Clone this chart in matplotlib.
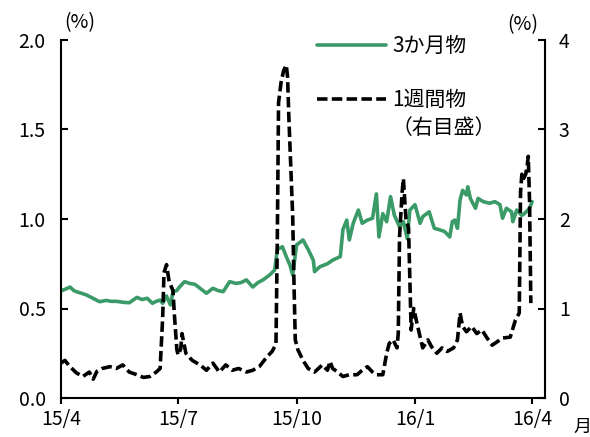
import matplotlib
matplotlib.use("Agg")
import matplotlib.pyplot as plt
import pandas as pd

plt.rcParams['font.family'] = ['Noto Sans CJK JP', 'DejaVu Sans']

# 3-month rate (left axis, %)
m3_dates = [
    "2015-04-01", "2015-04-05", "2015-04-08", "2015-04-11", "2015-04-13", "2015-04-17", "2015-04-21", "2015-04-25",
    "2015-05-01", "2015-05-06", "2015-05-10", "2015-05-14", "2015-05-19", "2015-05-24", "2015-05-30",
    "2015-06-03", "2015-06-07", "2015-06-11", "2015-06-14", "2015-06-17", "2015-06-19", "2015-06-22", "2015-06-25", "2015-06-27", "2015-06-30",
    "2015-07-02", "2015-07-06", "2015-07-10", "2015-07-14", "2015-07-18", "2015-07-23", "2015-07-28",
    "2015-08-01", "2015-08-05", "2015-08-10", "2015-08-15", "2015-08-19", "2015-08-23", "2015-08-28",
    "2015-09-01", "2015-09-05", "2015-09-10", "2015-09-14", "2015-09-16", "2015-09-20", "2015-09-23", "2015-09-26", "2015-09-28",
    "2015-10-01", "2015-10-06", "2015-10-10", "2015-10-14", "2015-10-15", "2015-10-19", "2015-10-25", "2015-10-29",
    "2015-11-04", "2015-11-06", "2015-11-09", "2015-11-11", "2015-11-14", "2015-11-18", "2015-11-21", "2015-11-25", "2015-11-29",
    "2015-12-02", "2015-12-04", "2015-12-07", "2015-12-10", "2015-12-13", "2015-12-16", "2015-12-20", "2015-12-23", "2015-12-26", "2015-12-28",
    "2016-01-01", "2016-01-05", "2016-01-07", "2016-01-12", "2016-01-16", "2016-01-20", "2016-01-24", "2016-01-28", "2016-01-30",
    "2016-02-01", "2016-02-03", "2016-02-05", "2016-02-07", "2016-02-10", "2016-02-11", "2016-02-13", "2016-02-17", "2016-02-19", "2016-02-23", "2016-02-28",
    "2016-03-03", "2016-03-07", "2016-03-09", "2016-03-12", "2016-03-16", "2016-03-17", "2016-03-20", "2016-03-24", "2016-03-26", "2016-03-30",
    "2016-04-01",
]
m3_rates = [
    0.598, 0.61, 0.62, 0.60, 0.594, 0.585, 0.575, 0.56,
    0.538, 0.545, 0.54, 0.54, 0.535, 0.532, 0.562,
    0.55, 0.557, 0.529, 0.54, 0.547, 0.529, 0.57, 0.52, 0.594, 0.60,
    0.62, 0.65, 0.64, 0.635, 0.613, 0.585, 0.613,
    0.60, 0.594, 0.65, 0.64, 0.645, 0.66, 0.62,
    0.645, 0.66, 0.687, 0.715, 0.83, 0.845, 0.79, 0.74, 0.687,
    0.855, 0.883, 0.83, 0.77, 0.706, 0.733, 0.75, 0.77,
    0.79, 0.94, 0.994, 0.883, 0.976, 1.05, 0.976, 0.994, 1.004,
    1.14, 0.90, 1.03, 0.985, 1.125, 1.02, 0.957, 0.985, 0.89, 1.05,
    1.08, 0.976, 1.013, 1.04, 0.948, 0.94, 0.93, 0.90, 0.985,
    0.994, 0.948, 1.106, 1.16, 1.134, 1.18, 1.115, 1.06, 1.115, 1.097, 1.088,
    1.097, 1.08, 1.004, 1.06, 1.04, 0.985, 1.05, 1.02, 1.03, 1.06,
    1.097,
]

# 1-week rate (right axis, %)
w1_dates = [
    "2015-04-01", "2015-04-04", "2015-04-08", "2015-04-13", "2015-04-18", "2015-04-23", "2015-04-26", "2015-04-29",
    "2015-05-03", "2015-05-09", "2015-05-14", "2015-05-19", "2015-05-24", "2015-05-30",
    "2015-06-04", "2015-06-09", "2015-06-14", "2015-06-17", "2015-06-19", "2015-06-20", "2015-06-22", "2015-06-24", "2015-06-27", "2015-06-28", "2015-06-30",
    "2015-07-01", "2015-07-03", "2015-07-04", "2015-07-07", "2015-07-10", "2015-07-12", "2015-07-18", "2015-07-23", "2015-07-28",
    "2015-08-02", "2015-08-07", "2015-08-12", "2015-08-17", "2015-08-23", "2015-08-28",
    "2015-09-02", "2015-09-08", "2015-09-12", "2015-09-15", "2015-09-16", "2015-09-17", "2015-09-19", "2015-09-21", "2015-09-23", "2015-09-24", "2015-09-25", "2015-09-28", "2015-09-29", "2015-09-30",
    "2015-10-02", "2015-10-06", "2015-10-10", "2015-10-15", "2015-10-21", "2015-10-25", "2015-10-27", "2015-10-29",
    "2015-11-02", "2015-11-06", "2015-11-11", "2015-11-17", "2015-11-21", "2015-11-25", "2015-11-29",
    "2015-12-02", "2015-12-07", "2015-12-10", "2015-12-12", "2015-12-15", "2015-12-18", "2015-12-19", "2015-12-20", "2015-12-22", "2015-12-23", "2015-12-25", "2015-12-27", "2015-12-29", "2015-12-31",
    "2016-01-02", "2016-01-05", "2016-01-07", "2016-01-11", "2016-01-14", "2016-01-18", "2016-01-22", "2016-01-26", "2016-01-31",
    "2016-02-03", "2016-02-05", "2016-02-07", "2016-02-10", "2016-02-14", "2016-02-18", "2016-02-22", "2016-02-26",
    "2016-03-01", "2016-03-05", "2016-03-09", "2016-03-15", "2016-03-19", "2016-03-22", "2016-03-23", "2016-03-24", "2016-03-25", "2016-03-27", "2016-03-28", "2016-03-29", "2016-03-30", "2016-03-31",
]
w1_rates = [
    0.39, 0.42, 0.35, 0.28, 0.24, 0.29, 0.21, 0.30,
    0.33, 0.35, 0.33, 0.37, 0.29, 0.26,
    0.23, 0.24, 0.29, 0.33, 0.90, 1.40, 1.49, 1.30, 1.20, 0.95, 0.54,
    0.48, 0.55, 0.72, 0.50, 0.45, 0.42, 0.37, 0.31, 0.39,
    0.29, 0.37, 0.31, 0.33, 0.29, 0.31,
    0.35, 0.46, 0.52, 0.60, 1.70, 3.30, 3.53, 3.66, 3.72, 3.59, 3.14, 2.03, 1.28, 0.65,
    0.54, 0.42, 0.33, 0.29, 0.37, 0.31, 0.41, 0.33,
    0.29, 0.24, 0.26, 0.26, 0.31, 0.35, 0.29,
    0.26, 0.26, 0.50, 0.61, 0.65, 0.56, 0.72, 1.80, 2.30, 2.45, 2.00, 1.90, 0.76, 1.00,
    0.87, 0.68, 0.56, 0.65, 0.57, 0.50, 0.56, 0.52, 0.56,
    0.65, 0.95, 0.80, 0.74, 0.80, 0.72, 0.76, 0.67,
    0.59, 0.63, 0.67, 0.68, 0.87, 0.95, 2.30, 2.50, 2.44, 2.50, 2.58, 2.70, 2.20, 1.06,
]

tick_dates = ["2015-04-01", "2015-07-01", "2015-10-01", "2016-01-01", "2016-04-01"]
tick_labels = ["15/4", "15/7", "15/10", "16/1", "16/4"]
left_ticks = [0.0, 0.5, 1.0, 1.5, 2.0]
right_ticks = [0, 1, 2, 3, 4]

GREEN = "#3a9a68"
W, H = 590, 437

fig = plt.figure(figsize=(W / 100, H / 100), dpi=100)
ax = fig.add_axes([61 / W, 1 - 398 / H, (545 - 61) / W, (398 - 40) / H])
ax2 = ax.twinx()

g_line, = ax.plot(pd.to_datetime(m3_dates), m3_rates, color=GREEN, lw=2.6,
                  solid_joinstyle="round", solid_capstyle="round")
b_line, = ax2.plot(pd.to_datetime(w1_dates), w1_rates, color="black", lw=2.6,
                   dashes=(2.9, 1.2))

ax.set_xlim(pd.Timestamp("2015-04-01"), pd.Timestamp("2016-04-11"))
ax.set_ylim(0, 2)
ax2.set_ylim(0, 4)

ax.set_xticks(pd.to_datetime(tick_dates))
ax.set_xticklabels(tick_labels)
ax.set_yticks(left_ticks)
ax.set_yticklabels([f"{v:.1f}" for v in left_ticks])
ax2.set_yticks(right_ticks)
ax2.set_yticklabels([str(v) for v in right_ticks])

for a in (ax, ax2):
    a.spines["top"].set_visible(False)
    for s in a.spines.values():
        s.set_linewidth(1.5)
ax.spines["right"].set_visible(False)
ax2.spines["left"].set_visible(False)
ax2.spines["bottom"].set_visible(False)

ax.tick_params(axis="y", direction="in", length=5, width=1.5, labelsize=14, pad=11)
ax.tick_params(axis="x", direction="out", length=4, width=1.5, labelsize=14, pad=4)
ax2.tick_params(axis="y", direction="in", length=5, width=1.5, labelsize=14, pad=10)

leg = ax2.legend([g_line, b_line], ["3か月物", "1週間物"], loc="upper left",
                 bbox_to_anchor=(317 / W, 1 - 35 / H), bbox_transform=fig.transFigure,
                 frameon=False, fontsize=15, handlelength=3.3, handletextpad=0.3,
                 labelspacing=1.55, borderpad=0, borderaxespad=0)

fig.text(392 / W, 1 - 128 / H, "（右目盛）", fontsize=15, ha="left", va="center")
fig.text(80 / W, 1 - 23 / H, "(%)", fontsize=14, ha="center", va="center")
fig.text(523 / W, 1 - 25 / H, "(%)", fontsize=14, ha="center", va="center")
fig.text(582 / W, 1 - 427 / H, "月", fontsize=13, ha="center", va="center")

fig.savefig("out.png", dpi=100)
